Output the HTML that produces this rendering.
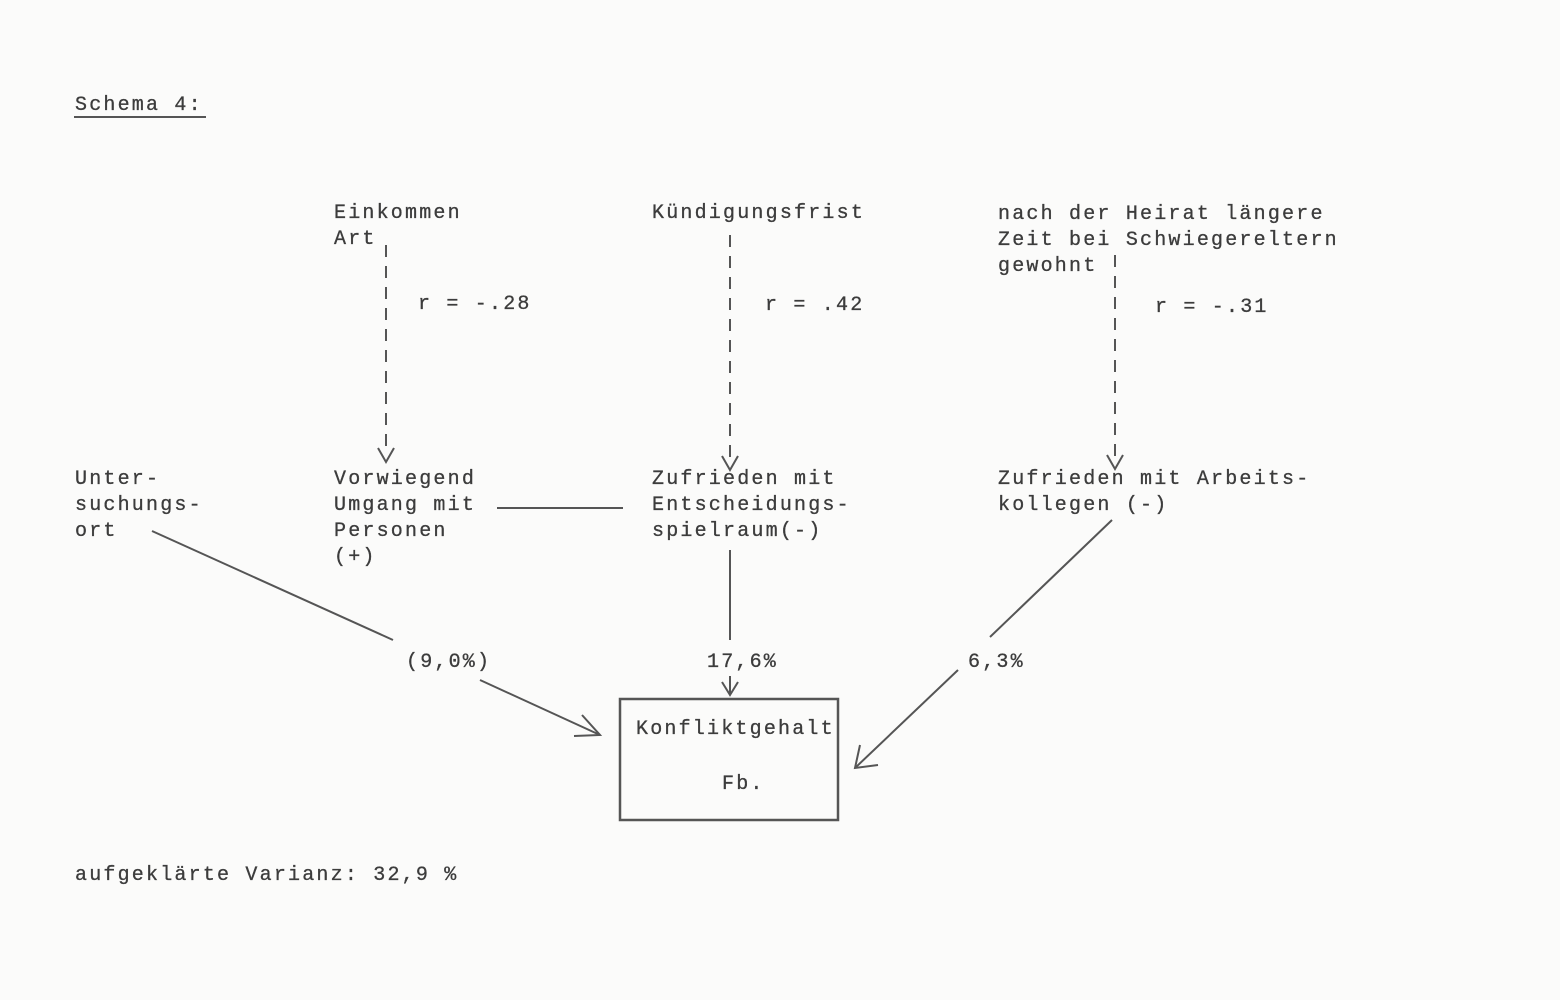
<!DOCTYPE html>
<html><head><meta charset="utf-8"><style>
html,body{margin:0;padding:0;background:#fbfbfa;}
svg{display:block}
text{font-family:"Liberation Mono",monospace;font-size:20px;fill:#3c3c3c;stroke:#3c3c3c;stroke-width:0.3;letter-spacing:2.2px;}
</style></head><body>
<svg width="1560" height="1000" viewBox="0 0 1560 1000" xmlns="http://www.w3.org/2000/svg">
<g stroke="#555" stroke-width="2" fill="none">
<line x1="74" y1="117" x2="206" y2="117"/>
<g stroke-dasharray="12,9">
<line x1="386" y1="245" x2="386" y2="452"/>
<line x1="730" y1="235" x2="730" y2="462"/>
<line x1="1115" y1="255" x2="1115" y2="462"/>
</g>
<polyline points="378,448 386,462 394,448"/>
<polyline points="722,456 730,470 738,456"/>
<polyline points="1107,455 1115,469 1123,455"/>
<line x1="497" y1="508" x2="623" y2="508"/>
<line x1="152" y1="531" x2="393" y2="640"/>
<line x1="480" y1="680" x2="600" y2="735"/>
<polyline points="582,715 600,735 574,736"/>
<line x1="730" y1="550" x2="730" y2="640"/>
<line x1="730" y1="676" x2="730" y2="694"/>
<polyline points="722,682 730,695 738,682"/>
<line x1="1112" y1="520" x2="990" y2="637"/>
<line x1="958" y1="670" x2="855" y2="768"/>
<polyline points="860,745 855,768 878,765"/>
<rect x="620" y="699" width="218" height="121" stroke-width="2.5"/>
</g>
<text x="75" y="110">Schema 4:</text>
<text x="334" y="218">Einkommen</text>
<text x="334" y="244">Art</text>
<text x="418" y="309">r = -.28</text>
<text x="652" y="218">Kündigungsfrist</text>
<text x="765" y="310">r = .42</text>
<text x="998" y="219">nach der Heirat längere</text>
<text x="998" y="245">Zeit bei Schwiegereltern</text>
<text x="998" y="271">gewohnt</text>
<text x="1155" y="312">r = -.31</text>
<text x="75" y="484">Unter-</text>
<text x="75" y="510">suchungs-</text>
<text x="75" y="536">ort</text>
<text x="334" y="484">Vorwiegend</text>
<text x="334" y="510">Umgang mit</text>
<text x="334" y="536">Personen</text>
<text x="334" y="562">(+)</text>
<text x="652" y="484">Zufrieden mit</text>
<text x="652" y="510">Entscheidungs-</text>
<text x="652" y="536">spielraum(-)</text>
<text x="998" y="484">Zufrieden mit Arbeits-</text>
<text x="998" y="510">kollegen (-)</text>
<text x="406" y="667">(9,0%)</text>
<text x="707" y="667">17,6%</text>
<text x="968" y="667">6,3%</text>
<text x="636" y="734">Konfliktgehalt</text>
<text x="722" y="789">Fb.</text>
<text x="75" y="880">aufgeklärte Varianz: 32,9 %</text>
</svg>
</body></html>
